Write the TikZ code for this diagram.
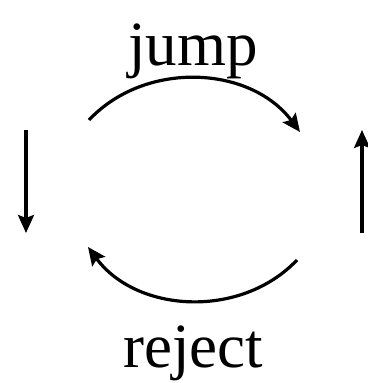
\documentclass[tikz,border=0pt]{standalone}
\usepackage{fontspec}
\setmainfont{Liberation Serif}
\usetikzlibrary{arrows.meta}
\begin{document}
\begin{tikzpicture}[x=1pt,y=-1pt,
  arr/.style={line width=3.2pt,-{Stealth[length=18pt,width=16pt,inset=3pt]}},
  lbl/.style={font=\fontsize{63}{63}\selectfont,inner sep=0pt,anchor=base}]
\useasboundingbox (0,0) rectangle (367,383);
\node[lbl] (jump) at (193,65) {jump};
\node[lbl] (reject) at (193,367) {reject};
\coordinate (ts) at (89,120);
\coordinate (te) at (300,132);
\coordinate (bs) at (297,260);
\coordinate (be) at (88,247);
\coordinate (ls) at (26,130);
\coordinate (le) at (26,233);
\coordinate (rs) at (362,233);
\coordinate (re) at (362,130);
\draw[arr] (ts) to[bend left=50] (te);
\draw[arr] (bs) to[bend left=50] (be);
\draw[arr] (ls) -- (le);
\draw[arr] (rs) -- (re);
\end{tikzpicture}
\end{document}
